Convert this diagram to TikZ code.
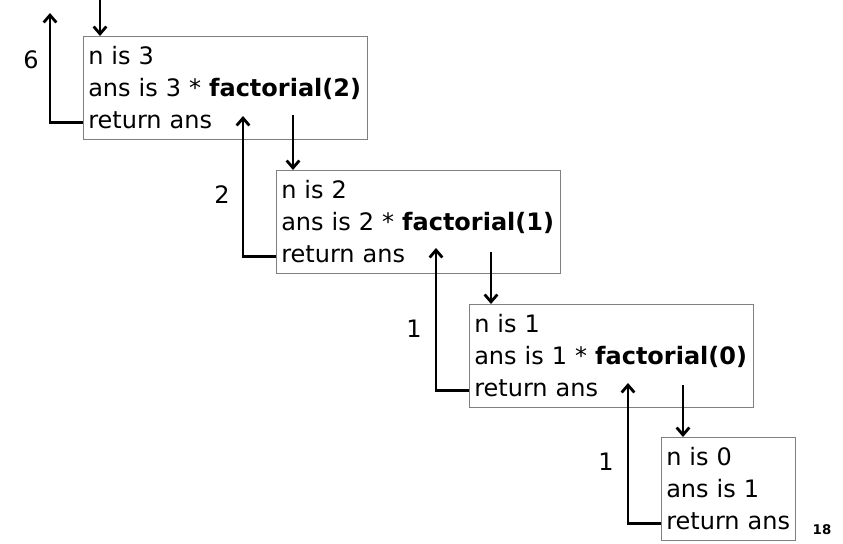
\documentclass[tikz,border=0pt]{standalone}
\usepackage{fontspec}
\setmainfont{DejaVu Sans}
\usetikzlibrary{arrows.meta}

\begin{document}
\begin{tikzpicture}[x=0.75pt,y=-0.75pt,>={Straight Barb[length=5.5pt,width=9.5pt]},
                    frame box/.style={draw=gray,line width=0.9pt,anchor=north west,align=left,
                                      inner xsep=3.5pt,minimum height=77pt,
                                      font=\fontsize{18pt}{24pt}\selectfont},
                    wide/.style={text width=206pt},
                    narrow/.style={text width=93.5pt},
                    flow/.style={->,line width=2.1pt},
                    value/.style={font=\fontsize{18pt}{21pt}\selectfont}]
\useasboundingbox (0,0) rectangle (843,543);

\node[frame box,wide] (f3) at (83,36) {n is 3\\ans is 3 * \textbf{factorial(2)}\\return ans};
\node[frame box,wide] (f2) at (276,170) {n is 2\\ans is 2 * \textbf{factorial(1)}\\return ans};
\node[frame box,wide] (f1) at (469,304) {n is 1\\ans is 1 * \textbf{factorial(0)}\\return ans};
\node[frame box,narrow] (f0) at (661,437) {n is 0\\ans is 1\\return ans};

% calls going down
\coordinate (c3) at (100,0);
\coordinate (c2) at (293,115);
\coordinate (c1) at (491,252);
\coordinate (c0) at (683,385);
\draw[flow] (c3) -- (c3 |- f3.north);
\draw[flow] (c2) -- (c2 |- f2.north);
\draw[flow] (c1) -- (c1 |- f1.north);
\draw[flow] (c0) -- (c0 |- f0.north);

% values coming back
\coordinate (t3) at (50,13);
\coordinate (t2) at (243,116);
\coordinate (t1) at (436,248);
\coordinate (t0) at (628,383);
\draw[flow] ([yshift=13pt]f3.south west) -| (t3);
\draw[flow] ([yshift=13pt]f2.south west) -| (t2);
\draw[flow] ([yshift=13pt]f1.south west) -| (t1);
\draw[flow] ([yshift=13pt]f0.south west) -| (t0);

\node[value] (v3) at (31,60) {6};
\node[value] (v2) at (222,195) {2};
\node[value] (v1) at (414,329) {1};
\node[value] (v0) at (606,462) {1};

\node[font=\fontsize{10pt}{12pt}\selectfont\bfseries] (pg) at (822,530) {18};
\end{tikzpicture}
\end{document}
